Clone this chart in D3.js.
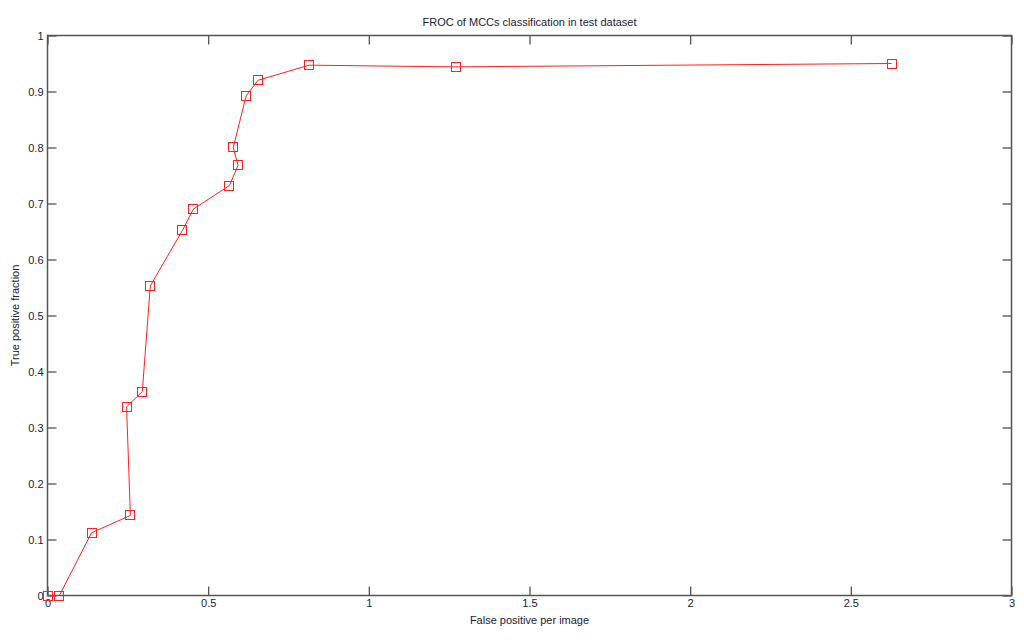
<!DOCTYPE html>
<html>
<head>
<meta charset="utf-8">
<script src="https://cdn.jsdelivr.net/npm/d3@7"></script>
<style>
  body { margin:0; background:#fff; }
  svg text { font-family: "Liberation Sans", Arial, sans-serif; fill:#202038; }
</style>
</head>
<body>
<svg id="chart" width="1024" height="644"></svg>
<script>
// FROC points
var fpPerImage = [0, 0.037, 0.137, 0.258, 0.246, 0.295, 0.320, 0.420, 0.454, 0.566, 0.593, 0.578, 0.618, 0.655, 0.814, 1.271, 2.627];
var tpFraction = [0, 0, 0.112, 0.143, 0.337, 0.364, 0.553, 0.652, 0.690, 0.732, 0.768, 0.800, 0.892, 0.920, 0.947, 0.944, 0.950];
var xTicks = [0, 0.5, 1, 1.5, 2, 2.5, 3];
var yTicks = [0, 0.1, 0.2, 0.3, 0.4, 0.5, 0.6, 0.7, 0.8, 0.9, 1];

var svg = d3.select("#chart");
var margin = {left: 47.5, right: 12.5, top: 35.5, bottom: 48.5};
var width = 1024 - margin.left - margin.right,
    height = 644 - margin.top - margin.bottom;

var x = d3.scaleLinear().domain([0, 3]).range([margin.left, margin.left + width]);
var y = d3.scaleLinear().domain([0, 1]).range([margin.top + height, margin.top]);

var axisColor = "#555";
var tickLen = 9;

// box
svg.append("rect")
    .attr("x", x(0)).attr("y", y(1))
    .attr("width", x(3) - x(0)).attr("height", y(0) - y(1))
    .attr("fill", "none").attr("stroke", axisColor).attr("stroke-width", 1.5);

// bottom axis (ticks inside)
var gx = svg.append("g")
    .attr("transform", "translate(0," + y(0) + ")")
    .call(d3.axisBottom(x).tickValues(xTicks).tickSize(-tickLen).tickPadding(4)
        .tickFormat(function(d) { return d3.format("~g")(d); }));
gx.select(".domain").remove();
gx.selectAll("line").attr("stroke", axisColor).attr("stroke-width", 1.3);
gx.selectAll("text").attr("font-size", 11);

// top ticks
var gxt = svg.append("g")
    .attr("transform", "translate(0," + y(1) + ")")
    .call(d3.axisTop(x).tickValues(xTicks).tickSize(-tickLen).tickFormat(""));
gxt.select(".domain").remove();
gxt.selectAll("line").attr("stroke", axisColor).attr("stroke-width", 1.3);

// left axis
var gy = svg.append("g")
    .attr("transform", "translate(" + x(0) + ",0)")
    .call(d3.axisLeft(y).tickValues(yTicks).tickSize(-tickLen).tickPadding(4)
        .tickFormat(function(d) { return d3.format("~g")(d); }));
gy.select(".domain").remove();
gy.selectAll("line").attr("stroke", axisColor).attr("stroke-width", 1.3);
gy.selectAll("text").attr("font-size", 11);

// right ticks
var gyr = svg.append("g")
    .attr("transform", "translate(" + x(3) + ",0)")
    .call(d3.axisRight(y).tickValues(yTicks).tickSize(-tickLen).tickFormat(""));
gyr.select(".domain").remove();
gyr.selectAll("line").attr("stroke", axisColor).attr("stroke-width", 1.3);

var points = fpPerImage.map(function(d, i) { return [d, tpFraction[i]]; });

svg.append("path")
    .datum(points)
    .attr("fill", "none")
    .attr("stroke", "#ff2020")
    .attr("stroke-width", 1)
    .attr("d", d3.line().x(function(d) { return x(d[0]); }).y(function(d) { return y(d[1]); }));

svg.append("g").selectAll("rect")
    .data(points)
    .enter().append("rect")
    .attr("x", function(d) { return Math.round(x(d[0])) - 4.5; })
    .attr("y", function(d) { return Math.round(y(d[1])) - 4.5; })
    .attr("width", 9).attr("height", 9)
    .attr("fill", "none")
    .attr("stroke", "#ff2020")
    .attr("stroke-width", 1);

// titles
svg.append("text")
    .attr("x", (x(0) + x(3)) / 2).attr("y", 26)
    .attr("text-anchor", "middle").attr("font-size", 11)
    .text("FROC of MCCs classification in test dataset");

svg.append("text")
    .attr("x", (x(0) + x(3)) / 2).attr("y", 624)
    .attr("text-anchor", "middle").attr("font-size", 11)
    .text("False positive per image");

svg.append("text")
    .attr("transform", "translate(19," + (y(0.5)) + ") rotate(-90)")
    .attr("text-anchor", "middle").attr("font-size", 11)
    .text("True positive fraction");
</script>
</body>
</html>
